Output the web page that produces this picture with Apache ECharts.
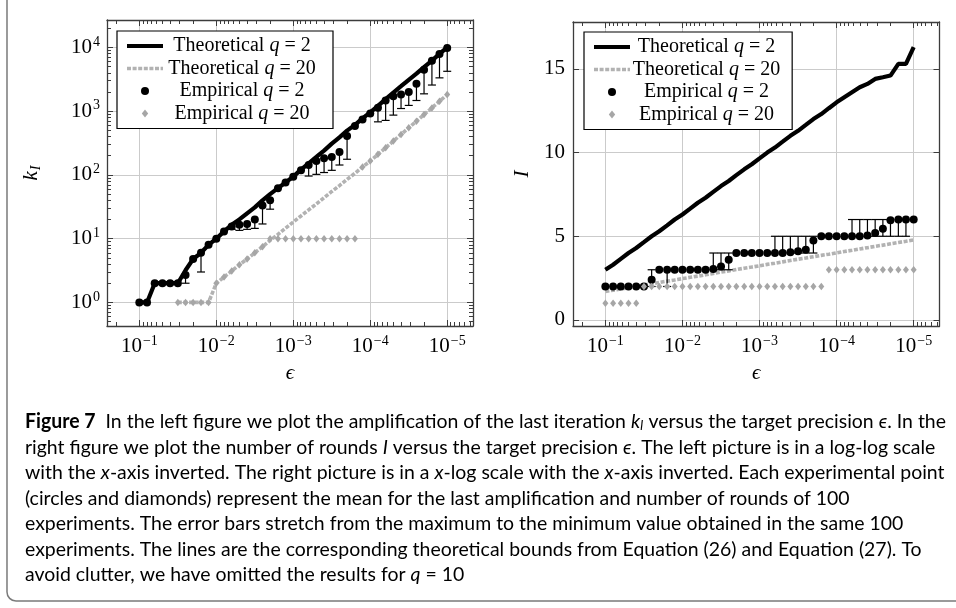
<!DOCTYPE html>
<html>
<head>
<meta charset="utf-8">
<script src="https://cdn.jsdelivr.net/npm/echarts@6/dist/echarts.min.js"></script>
<style>
html, body { margin: 0; padding: 0; background: #fff; }
#main { width: 956px; height: 608px; }
</style>
</head>
<body>
<div id="main"></div>
<script>
// target precision, 10 points per decade from 1e-1 to 1e-5
var eps = [0.1, 0.0794, 0.0631, 0.0501, 0.0398, 0.0316, 0.0251, 0.02, 0.0158, 0.0126,
	0.01, 0.00794, 0.00631, 0.00501, 0.00398, 0.00316, 0.00251, 0.002, 0.00158, 0.00126,
	0.001, 0.000794, 0.000631, 0.000501, 0.000398, 0.000316, 0.000251, 0.0002, 0.000158, 0.000126,
	0.0001, 0.0000794, 0.0000631, 0.0000501, 0.0000398, 0.0000316, 0.0000251, 0.00002, 0.0000158, 0.0000126,
	0.00001];

// left: last amplification k_I
var kTheory2 = [1, 1, 2, 2, 2, 2, 3.2, 4.8, 6, 8, 10, 13, 16.5, 20, 25, 31, 40, 50, 62, 76,
	94, 121, 152, 191, 240, 309, 388, 495, 610, 770, 960, 1210, 1540, 1960, 2460, 3100, 3870, 4900, 6200, 7900,
	10000];
var kTheory20 = [null, null, null, null, null, 1, 1, 1, 1, 1, 2, 2.5, 3.1, 3.9, 4.8, 6, 7.5, 9.4, 11.7, 14.6,
	18.2, 22.7, 28.3, 35, 44, 55, 68, 85, 106, 133, 165, 210, 267, 339, 431, 548, 697, 885, 1126, 1431,
	1820];
var kEmp2Mean = [1, 1, 2, 2, 2, 2, 2.7, 4.8, 6, 8, 10, 13, 15.5, 16.5, 17, 20, 33, 40, 62, 76,
	94, 118, 143, 165, 182, 191, 229, 407, 584, 740, 921, 1130, 1470, 1710, 1820, 2000, 2700, 4460, 6200, 7900,
	9800];
var kEmp2Min = [1, 1, 2, 2, 2, 2, 2, 4.8, 3, 8, 10, 13, 14, 13.5, 14, 14.5, 17, 29, 62, 76,
	94, 118, 96, 102, 109, 118, 143, 176, 584, 740, 921, 680, 716, 867, 1100, 1230, 1470, 1870, 2570, 3330,
	4220];
var kEmp20 = [null, null, null, null, null, 1, 1, 1, 1, 1, 2, 2.5, 3.1, 3.9, 4.8, 6, 7.5, 10, 10, 10,
	10, 10, 10, 10, 10, 10, 10, 10, 10, 133, 165, 210, 267, 339, 431, 548, 697, 885, 1126, 1431,
	1820];

// right: number of rounds I
var iTheory2 = [3.0, 3.3, 3.65, 4.0, 4.3, 4.65, 5.0, 5.3, 5.65, 6.0, 6.3, 6.65, 7.0, 7.3, 7.65, 8.0, 8.3, 8.65, 9.0, 9.3,
	9.65, 10.0, 10.3, 10.65, 11.0, 11.3, 11.65, 12.0, 12.3, 12.65, 13.0, 13.3, 13.6, 13.9, 14.1, 14.4, 14.5, 14.6, 15.3, 15.3,
	16.3];
var iTheory20 = [1.70, 1.78, 1.85, 1.93, 2.01, 2.09, 2.16, 2.24, 2.32, 2.39, 2.47, 2.55, 2.62, 2.70, 2.78, 2.86, 2.93, 3.01, 3.09, 3.16,
	3.24, 3.32, 3.39, 3.47, 3.55, 3.63, 3.70, 3.78, 3.86, 3.93, 4.01, 4.09, 4.16, 4.24, 4.32, 4.40, 4.47, 4.55, 4.63, 4.70,
	4.78];
var iEmp2Mean = [2, 2, 2, 2, 2, 2, 2.4, 3, 3, 3, 3, 3, 3, 3, 3.05, 3.2, 3.6, 4, 4, 4,
	4, 4, 4, 4, 4.05, 4.1, 4.2, 4.75, 5, 5, 5, 5, 5, 5, 5.05, 5.2, 5.45, 5.95, 6, 6,
	6];
var iEmp2Min = [2, 2, 2, 2, 2, 2, 2, 3, 2, 3, 3, 3, 3, 3, 3, 3, 3, 4, 4, 4,
	4, 4, 4, 4, 4, 4, 4, 4, 5, 5, 5, 5, 5, 5, 5, 5, 5, 5, 5, 5,
	6];
var iEmp2Max = [2, 2, 2, 2, 2, 2, 3, 3, 3, 3, 3, 3, 3, 3, 4, 4, 4, 4, 4, 4,
	4, 4, 5, 5, 5, 5, 5, 5, 5, 5, 5, 5, 6, 6, 6, 6, 6, 6, 6, 6,
	6];
var iEmp20 = [1, 1, 1, 1, 1, 2, 2, 2, 2, 2, 2, 2, 2, 2, 2, 2, 2, 2, 2, 2,
	2, 2, 2, 2, 2, 2, 2, 2, 2, 3, 3, 3, 3, 3, 3, 3, 3, 3, 3, 3,
	3];

var names = ['Theoretical q = 2', 'Theoretical q = 20', 'Empirical q = 2', 'Empirical q = 20'];

var SERIF = "'Liberation Serif', 'DejaVu Serif', serif";
var BLACK = '#000';
var GRAY = '#a6a6a6';
var DASH = '#b2b2b2';
var FRAME = '#3c3c3c';

// axis ranges in log10 space
var X_LO = -5.335, X_HI = -0.58;
var YL_LO = -0.37, YL_HI = 4.43;
var YR_LO = -0.36, YR_HI = 17.8;

function pairs(xs, ys) {
	var out = [];
	for (var i = 0; i < xs.length; i++) {
		if (ys[i] != null) out.push([xs[i], ys[i]]);
	}
	return out;
}

function bars(xs, mean, lo, hi) {
	var out = [];
	for (var i = 0; i < xs.length; i++) {
		var h = hi ? hi[i] : mean[i];
		if (lo[i] < mean[i] || h > mean[i]) out.push([xs[i], lo[i], h, mean[i]]);
	}
	return out;
}

function minorTicks(lo, hi) {
	var out = [];
	for (var d = Math.floor(lo); d <= Math.ceil(hi); d++) {
		for (var m = 2; m <= 9; m++) {
			var v = d + Math.log10(m);
			if (v > lo && v < hi) out.push(v);
		}
	}
	return out;
}

function majorTicks(lo, hi) {
	var out = [];
	for (var d = Math.ceil(lo); d <= Math.floor(hi); d++) out.push(d);
	return out;
}

function powLabel(v) {
	var e = Math.round(Math.log10(v));
	return '{b|10}{s|' + (e < 0 ? '\u2212' + (-e) : e) + '}';
}

var powRich = {
	b: {fontFamily: SERIF, fontSize: 21, color: '#000'},
	s: {fontFamily: SERIF, fontSize: 14, color: '#000', padding: [0, 0, 11, 1]}
};

function tickAxis(grid, pos, lo, hi, inv, vals, len) {
	return {
		type: 'value', gridIndex: grid, position: pos, min: lo, max: hi, inverse: inv,
		axisLine: {show: false, onZero: false},
		axisLabel: {show: false},
		splitLine: {show: false},
		axisTick: {show: true, inside: true, length: len, customValues: vals,
			lineStyle: {color: FRAME, width: 1}}
	};
}

function logX(grid, pos, labels) {
	return {
		type: 'log', logBase: 10, gridIndex: grid, position: pos, inverse: true,
		min: Math.pow(10, X_LO), max: Math.pow(10, X_HI),
		name: labels ? '\u03f5' : '', nameLocation: 'middle', nameGap: 37,
		nameTextStyle: {fontFamily: SERIF, fontStyle: 'italic', fontSize: 21, color: '#000'},
		axisLine: {show: true, onZero: false, lineStyle: {color: FRAME, width: 1.3}},
		axisTick: {show: false},
		splitLine: {show: labels, lineStyle: {color: '#cbcbcb', width: 1}},
		axisLabel: {show: labels, margin: 8, showMinLabel: false, showMaxLabel: false,
			formatter: powLabel, rich: powRich}
	};
}

function xAxesFor(grid) {
	var minor = minorTicks(X_LO, X_HI), major = majorTicks(X_LO, X_HI);
	return [
		logX(grid, 'bottom', true),
		logX(grid, 'top', false),
		tickAxis(grid, 'bottom', X_LO, X_HI, true, major, 6),
		tickAxis(grid, 'bottom', X_LO, X_HI, true, minor, 4),
		tickAxis(grid, 'top', X_LO, X_HI, true, major, 6),
		tickAxis(grid, 'top', X_LO, X_HI, true, minor, 4)
	];
}

var xAxes = xAxesFor(0).concat(xAxesFor(1));

function logYL(pos, labels) {
	return {
		type: 'log', logBase: 10, gridIndex: 0, position: pos,
		min: Math.pow(10, YL_LO), max: Math.pow(10, YL_HI),
		name: labels ? '{k|k}{s|I}' : '', nameLocation: 'middle', nameGap: 64,
		nameTextStyle: {rich: {
			k: {fontFamily: SERIF, fontStyle: 'italic', fontSize: 21, color: '#000'},
			s: {fontFamily: SERIF, fontStyle: 'italic', fontSize: 14, color: '#000', padding: [9, 0, 0, 1]}
		}},
		axisLine: {show: true, onZero: false, lineStyle: {color: FRAME, width: 1.3}},
		axisTick: {show: false},
		splitLine: {show: labels, lineStyle: {color: '#cbcbcb', width: 1}},
		axisLabel: {show: labels, margin: 7, showMinLabel: false, showMaxLabel: false,
			formatter: powLabel, rich: powRich}
	};
}

function valYR(pos, labels) {
	return {
		type: 'value', gridIndex: 1, position: pos, min: YR_LO, max: YR_HI, splitNumber: 4,
		name: labels ? 'I' : '', nameLocation: 'middle', nameGap: 40,
		nameTextStyle: {fontFamily: SERIF, fontStyle: 'italic', fontSize: 21, color: '#000'},
		axisLine: {show: true, onZero: false, lineStyle: {color: FRAME, width: 1.3}},
		axisTick: {show: true, inside: true, length: 6, lineStyle: {color: FRAME, width: 1}},
		splitLine: {show: labels, lineStyle: {color: '#cbcbcb', width: 1}},
		axisLabel: {show: labels, margin: 8, showMinLabel: false, showMaxLabel: false,
			fontFamily: SERIF, fontSize: 21, color: '#000'}
	};
}

var yMinor = minorTicks(YL_LO, YL_HI), yMajor = majorTicks(YL_LO, YL_HI);
var yAxes = [
	logYL('left', true),
	logYL('right', false),
	tickAxis(0, 'left', YL_LO, YL_HI, false, yMajor, 6),
	tickAxis(0, 'left', YL_LO, YL_HI, false, yMinor, 4),
	tickAxis(0, 'right', YL_LO, YL_HI, false, yMajor, 6),
	tickAxis(0, 'right', YL_LO, YL_HI, false, yMinor, 4),
	valYR('left', true),
	valYR('right', false)
];

function errItem(params, api) {
	var x = api.value(0);
	var lo = api.coord([x, api.value(1)]);
	var hi = api.coord([x, api.value(2)]);
	var mid = api.coord([x, api.value(3)]);
	var w = 4;
	var ch = [{type: 'line', shape: {x1: lo[0], y1: lo[1], x2: hi[0], y2: hi[1]},
		style: {stroke: BLACK, lineWidth: 1.2}}];
	if (Math.abs(lo[1] - mid[1]) > 0.5) {
		ch.push({type: 'line', shape: {x1: lo[0] - w, y1: lo[1], x2: lo[0] + w, y2: lo[1]},
			style: {stroke: BLACK, lineWidth: 1.2}});
	}
	if (Math.abs(hi[1] - mid[1]) > 0.5) {
		ch.push({type: 'line', shape: {x1: hi[0] - w, y1: hi[1], x2: hi[0] + w, y2: hi[1]},
			style: {stroke: BLACK, lineWidth: 1.2}});
	}
	return {type: 'group', children: ch};
}

var DIAMOND = 'path://M3,0L6,3.75L3,7.5L0,3.75Z';

function seriesFor(xi, yi, th2, th20, em2, err, em20) {
	return [
		{name: names[0], type: 'line', xAxisIndex: xi, yAxisIndex: yi, data: th2, symbol: 'none',
			z: 2, color: BLACK, lineStyle: {color: BLACK, width: 4.2}},
		{name: names[1], type: 'line', xAxisIndex: xi, yAxisIndex: yi, data: th20, symbol: 'none',
			z: 2, color: DASH, lineStyle: {color: DASH, width: 3.6, type: [4, 1.6]}},
		{name: 'err', type: 'custom', xAxisIndex: xi, yAxisIndex: yi, data: err, z: 3,
			encode: {x: 0, y: [1, 2]}, renderItem: errItem},
		{name: names[2], type: 'scatter', xAxisIndex: xi, yAxisIndex: yi, data: em2, z: 4,
			symbol: 'circle', symbolSize: 8, itemStyle: {color: BLACK, opacity: 1}},
		{name: names[3], type: 'scatter', xAxisIndex: xi, yAxisIndex: yi, data: em20, z: 5,
			symbol: DIAMOND, symbolSize: [6, 7.5], itemStyle: {color: GRAY, opacity: 1}}
	];
}

var series = seriesFor(0, 0,
	pairs(eps, kTheory2), pairs(eps, kTheory20), pairs(eps, kEmp2Mean),
	bars(eps, kEmp2Mean, kEmp2Min, null), pairs(eps, kEmp20)
).concat(seriesFor(6, 6,
	pairs(eps, iTheory2), pairs(eps, iTheory20), pairs(eps, iEmp2Mean),
	bars(eps, iEmp2Mean, iEmp2Min, iEmp2Max), pairs(eps, iEmp20)
));

var dashIcon = 'path://M0,0h4v3.5h-4z M5.6,0h4v3.5h-4z M11.2,0h4v3.5h-4z M16.8,0h4v3.5h-4z M22.4,0h4v3.5h-4z M28,0h4v3.5h-4z M33.6,0h2.4v3.5h-2.4z';

function legendAt(left, top, textW, padRight) {
	return {
		left: left, top: top, orient: 'vertical',
		itemWidth: 36, itemHeight: 8, itemGap: 2.5,
		padding: [5, padRight, 5, 10],
		backgroundColor: '#fff', borderColor: '#000', borderWidth: 1.2,
		selectedMode: false,
		itemStyle: {borderWidth: 0},
		data: [
			{name: names[0], icon: 'path://M0,0H36V4H0Z', itemStyle: {color: BLACK, borderWidth: 0}},
			{name: names[1], icon: dashIcon, itemStyle: {color: DASH, borderWidth: 0}},
			{name: names[2], icon: 'circle', itemStyle: {color: BLACK, borderWidth: 0, opacity: 1}},
			{name: names[3], icon: DIAMOND, itemStyle: {color: GRAY, borderWidth: 0, opacity: 1}}
		],
		formatter: function (name) {
			var p = name.split('q = ');
			return '{t|' + p[0] + '}{q|q}{t| = ' + p[1] + '}';
		},
		textStyle: {
			width: textW, lineHeight: 20,
			rich: {
				t: {fontFamily: SERIF, fontSize: 20, color: '#000', align: 'center', lineHeight: 20},
				q: {fontFamily: SERIF, fontSize: 20, fontStyle: 'italic', color: '#000', align: 'center', lineHeight: 20}
			}
		}
	};
}

// caption under the two panels: each line is a list of [style, text] runs
var CAP = "Lato, 'Liberation Sans', sans-serif";
var CAP_SIZE = 20;
var CAP_INK = '#1e1a1b';
var capRich = {
	n: {fontFamily: CAP, fontSize: CAP_SIZE, color: CAP_INK},
	b: {fontFamily: CAP, fontSize: CAP_SIZE, fontWeight: 'bold', color: CAP_INK},
	i: {fontFamily: CAP, fontSize: CAP_SIZE, fontStyle: 'italic', color: CAP_INK},
	sub: {fontFamily: CAP, fontSize: 13, fontStyle: 'italic', color: CAP_INK, padding: [8, 0, 0, 0]},
	l: {fontFamily: CAP, fontSize: CAP_SIZE, color: '#3a3acf'}
};
var capLines = [
	[['b', 'Figure 7'], ['n', '  In the left figure we plot the amplification of the last iteration '], ['i', 'k'], ['sub', 'I'],
		['n', ' versus the target precision '], ['i', '\u03f5'], ['n', '. In the']],
	[['n', 'right figure we plot the number of rounds '], ['i', 'I'], ['n', ' versus the target precision '], ['i', '\u03f5'],
		['n', '. The left picture is in a log-log scale']],
	[['n', 'with the '], ['i', 'x'], ['n', '-axis inverted. The right picture is in a '], ['i', 'x'], ['n', '-log scale with the '],
		['i', 'x'], ['n', '-axis inverted. Each experimental point']],
	[['n', '(circles and diamonds) represent the mean for the last amplification and number of rounds of 100']],
	[['n', 'experiments. The error bars stretch from the maximum to the minimum value obtained in the same 100']],
	[['n', 'experiments. The lines are the corresponding theoretical bounds from Equation ('], ['l', '26'], ['n', ') and Equation ('],
		['l', '27'], ['n', '). To']],
	[['n', 'avoid clutter, we have omitted the results for '], ['i', 'q'], ['n', ' = 10']]
];
var capY = [422, 447.5, 473, 498.5, 524, 549.5, 575];
var CAP_X = 25, CAP_FIRST_W = 921;

// squeeze the caption font horizontally so the first line spans the same width
var ctx = document.createElement('canvas').getContext('2d');
function runWidth(run) {
	var st = capRich[run[0]];
	ctx.font = (st.fontStyle || 'normal') + ' ' + (st.fontWeight || 'normal') + ' ' + st.fontSize + 'px ' + st.fontFamily;
	return ctx.measureText(run[1]).width;
}
var firstW = 0;
capLines[0].forEach(function (r) { firstW += runWidth(r); });
var capScale = CAP_FIRST_W / firstW;

var graphics = [{
	type: 'rect', shape: {x: 7, y: -20, width: 1000, height: 621, r: 9},
	style: {fill: 'none', stroke: '#7a7a7a', lineWidth: 1.5}, silent: true
}];
capLines.forEach(function (runs, i) {
	var t = runs.map(function (r) { return '{' + r[0] + '|' + r[1] + '}'; }).join('');
	graphics.push({type: 'text', x: CAP_X, y: capY[i], scaleX: capScale, silent: true,
		style: {text: t, rich: capRich, verticalAlign: 'middle', align: 'left'}});
});

var myChart = echarts.init(document.getElementById('main'), null, {renderer: 'canvas'});
var option = {
	animation: false,
	backgroundColor: '#fff',
	grid: [
		{left: 107, top: 20, width: 366, height: 306},
		{left: 573, top: 22, width: 366.5, height: 304}
	],
	xAxis: xAxes,
	yAxis: yAxes,
	legend: [legendAt(117, 31, 148, 17), legendAt(584, 32, 143, 12)],
	graphic: graphics,
	series: series
};
myChart.setOption(option);
</script>
</body>
</html>
